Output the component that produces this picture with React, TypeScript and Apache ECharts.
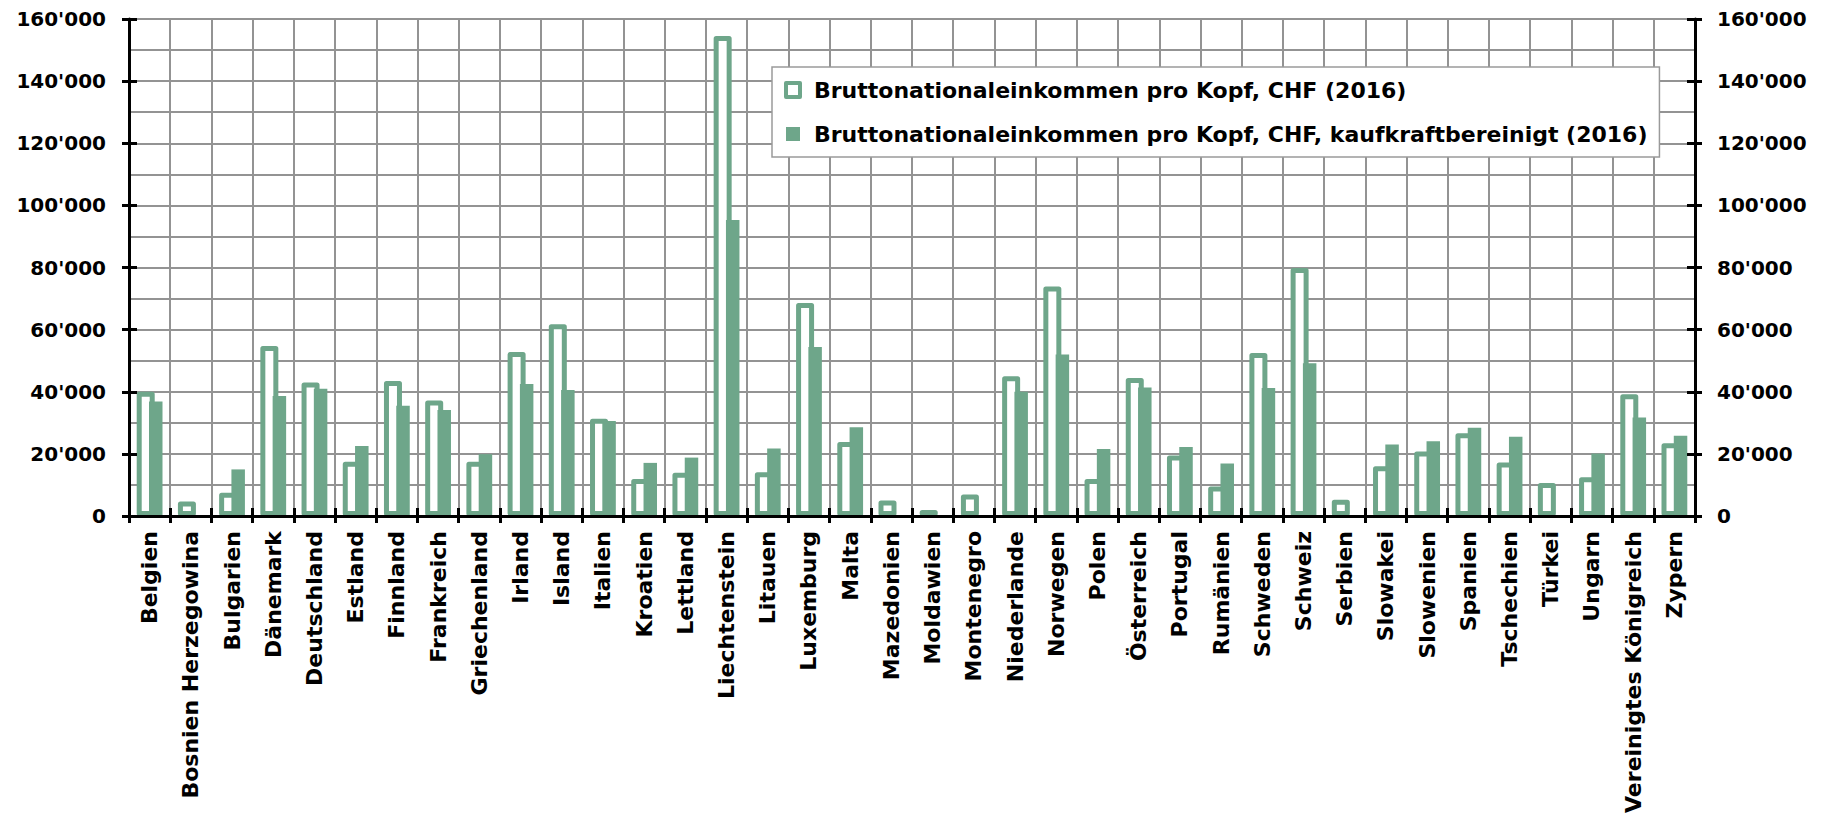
import React, { useEffect, useRef } from "react";
import * as echarts from "echarts";

// Countries along the category axis
const countries: string[] = [
  "Belgien", "Bosnien Herzegowina", "Bulgarien", "Dänemark", "Deutschland", "Estland",
  "Finnland", "Frankreich", "Griechenland", "Irland", "Island", "Italien", "Kroatien",
  "Lettland", "Liechtenstein", "Litauen", "Luxemburg", "Malta", "Mazedonien", "Moldawien",
  "Montenegro", "Niederlande", "Norwegen", "Polen", "Österreich", "Portugal", "Rumänien",
  "Schweden", "Schweiz", "Serbien", "Slowakei", "Slowenien", "Spanien", "Tschechien",
  "Türkei", "Ungarn", "Vereinigtes Königreich", "Zypern",
];

// GNI per capita, CHF (2016)
const gniNominal: (number | null)[] = [
  40000, 4700, 7500, 54700, 43000, 17500,
  43500, 37200, 17500, 52800, 61700, 31300, 11900,
  13900, 154500, 14100, 68600, 23800, 5000, 1900,
  6900, 45000, 73900, 11900, 44400, 19500, 9500,
  52500, 79800, 5200, 16000, 20800, 26600, 17200,
  10600, 12500, 39200, 23400,
];

// GNI per capita, CHF, purchasing-power adjusted (2016)
const gniPpp: (number | null)[] = [
  36900, null, 15000, 38600, 41000, 22500,
  35500, 34100, 19900, 42500, 40600, 30600, 17100,
  18800, 95300, 21700, 54400, 28600, null, null,
  null, 40000, 52000, 21600, 41400, 22200, 16900,
  41200, 49200, null, 23000, 24100, 28400, 25500,
  null, 20100, 31700, 25800,
];

const seriesNames: string[] = [
  "Bruttonationaleinkommen pro Kopf, CHF (2016)",
  "Bruttonationaleinkommen pro Kopf, CHF, kaufkraftbereinigt (2016)",
];

const yMin = 0;
const yMax = 160000;
const yStep = 20000;

const GREEN = "#6ea68a";
const GRID = "#939393";
const FONT = "DejaVu Sans";

const fmt = (v: number) => String(v).replace(/\B(?=(\d{3})+(?!\d))/g, "'");

const labelStyle = {
  fontFamily: FONT,
  fontWeight: "bold" as const,
  color: "#000",
};

function buildOption(): echarts.EChartsOption {
  const valueBase = { type: "value" as const, min: yMin, max: yMax, interval: yStep };
  const catBase = { type: "category" as const, data: countries, boundaryGap: true, position: "bottom" as const };
  const blackLine = { color: "#000", width: 3 };

  return {
    animation: false,
    backgroundColor: "#fff",
    grid: { left: 129, right: 130, top: 19, bottom: 306, containLabel: false },
    legend: {
      orient: "vertical",
      left: 772,
      top: 67,
      padding: [12, 12, 12, 12],
      itemGap: 22,
      itemWidth: 14,
      itemHeight: 14,
      backgroundColor: "#fff",
      borderColor: "#9a9a9a",
      borderWidth: 1.5,
      borderRadius: 0,
      textStyle: { ...labelStyle, fontSize: 22, lineHeight: 22, padding: [0, 0, 0, 9] },
      data: [
        { name: seriesNames[0], icon: "rect", itemStyle: { color: "#fff", borderColor: GREEN, borderWidth: 4 } },
        { name: seriesNames[1], icon: "rect", itemStyle: { color: GREEN, borderWidth: 0 } },
      ],
    },
    xAxis: [
      {
        ...catBase,
        z: 0,
        axisLine: { show: false },
        axisTick: { show: false },
        axisLabel: { show: false },
        splitLine: { show: true, interval: 0, lineStyle: { color: GRID, width: 2 } },
      },
      {
        ...catBase,
        z: 5,
        axisLine: { show: true, onZero: false, lineStyle: blackLine },
        axisTick: { show: true, interval: 0, length: 7, lineStyle: blackLine },
        axisLabel: { ...labelStyle, show: true, interval: 0, rotate: 90, margin: 15, fontSize: 22 },
        splitLine: { show: false },
      },
      {
        ...catBase,
        z: 5,
        axisLine: { show: false, onZero: false },
        axisTick: { show: true, inside: true, interval: 0, length: 8, lineStyle: blackLine },
        axisLabel: { show: false },
        splitLine: { show: false },
      },
    ],
    yAxis: [
      {
        ...valueBase,
        position: "left",
        z: 0,
        axisLine: { show: false },
        axisTick: { show: false },
        axisLabel: { show: false },
        splitLine: { show: true, lineStyle: { color: GRID, width: 2 } },
        minorTick: { show: false, splitNumber: 2 },
        minorSplitLine: { show: true, lineStyle: { color: GRID, width: 2 } },
      },
      {
        ...valueBase,
        position: "left",
        z: 5,
        axisLine: { show: true, lineStyle: blackLine },
        axisTick: { show: true, length: 7, lineStyle: blackLine },
        axisLabel: { ...labelStyle, fontSize: 20, margin: 23, formatter: fmt },
        splitLine: { show: false },
      },
      {
        ...valueBase,
        position: "left",
        z: 5,
        axisLine: { show: false },
        axisTick: { show: true, inside: true, length: 8, lineStyle: blackLine },
        axisLabel: { show: false },
        splitLine: { show: false },
      },
      {
        ...valueBase,
        position: "right",
        z: 5,
        axisLine: { show: true, lineStyle: blackLine },
        axisTick: { show: true, length: 7, lineStyle: blackLine },
        axisLabel: { ...labelStyle, fontSize: 20, margin: 22, formatter: fmt },
        splitLine: { show: false },
      },
      {
        ...valueBase,
        position: "right",
        z: 5,
        axisLine: { show: false },
        axisTick: { show: true, inside: true, length: 8, lineStyle: blackLine },
        axisLabel: { show: false },
        splitLine: { show: false },
      },
    ],
    series: [
      {
        name: seriesNames[0],
        type: "bar",
        xAxisIndex: 0,
        yAxisIndex: 0,
        data: gniNominal,
        barWidth: 18,
        barGap: "-31.7%",
        itemStyle: { color: "#fff", borderColor: GREEN, borderWidth: 5, borderJoin: "round" },
        emphasis: { disabled: true },
      },
      {
        name: seriesNames[1],
        type: "bar",
        xAxisIndex: 0,
        yAxisIndex: 0,
        data: gniPpp,
        barWidth: 13.5,
        barGap: "-31.7%",
        itemStyle: { color: GREEN },
        emphasis: { disabled: true },
      },
    ],
  };
}

export default function App() {
  const ref = useRef<HTMLDivElement>(null);

  useEffect(() => {
    if (!ref.current) return;
    const chart = echarts.init(ref.current, undefined, { renderer: "svg" });
    chart.setOption(buildOption());
    return () => chart.dispose();
  }, []);

  return (
    <div
      ref={ref}
      style={{ position: "fixed", left: 0, top: 0, width: 1825, height: 822, background: "#fff" }}
    />
  );
}
